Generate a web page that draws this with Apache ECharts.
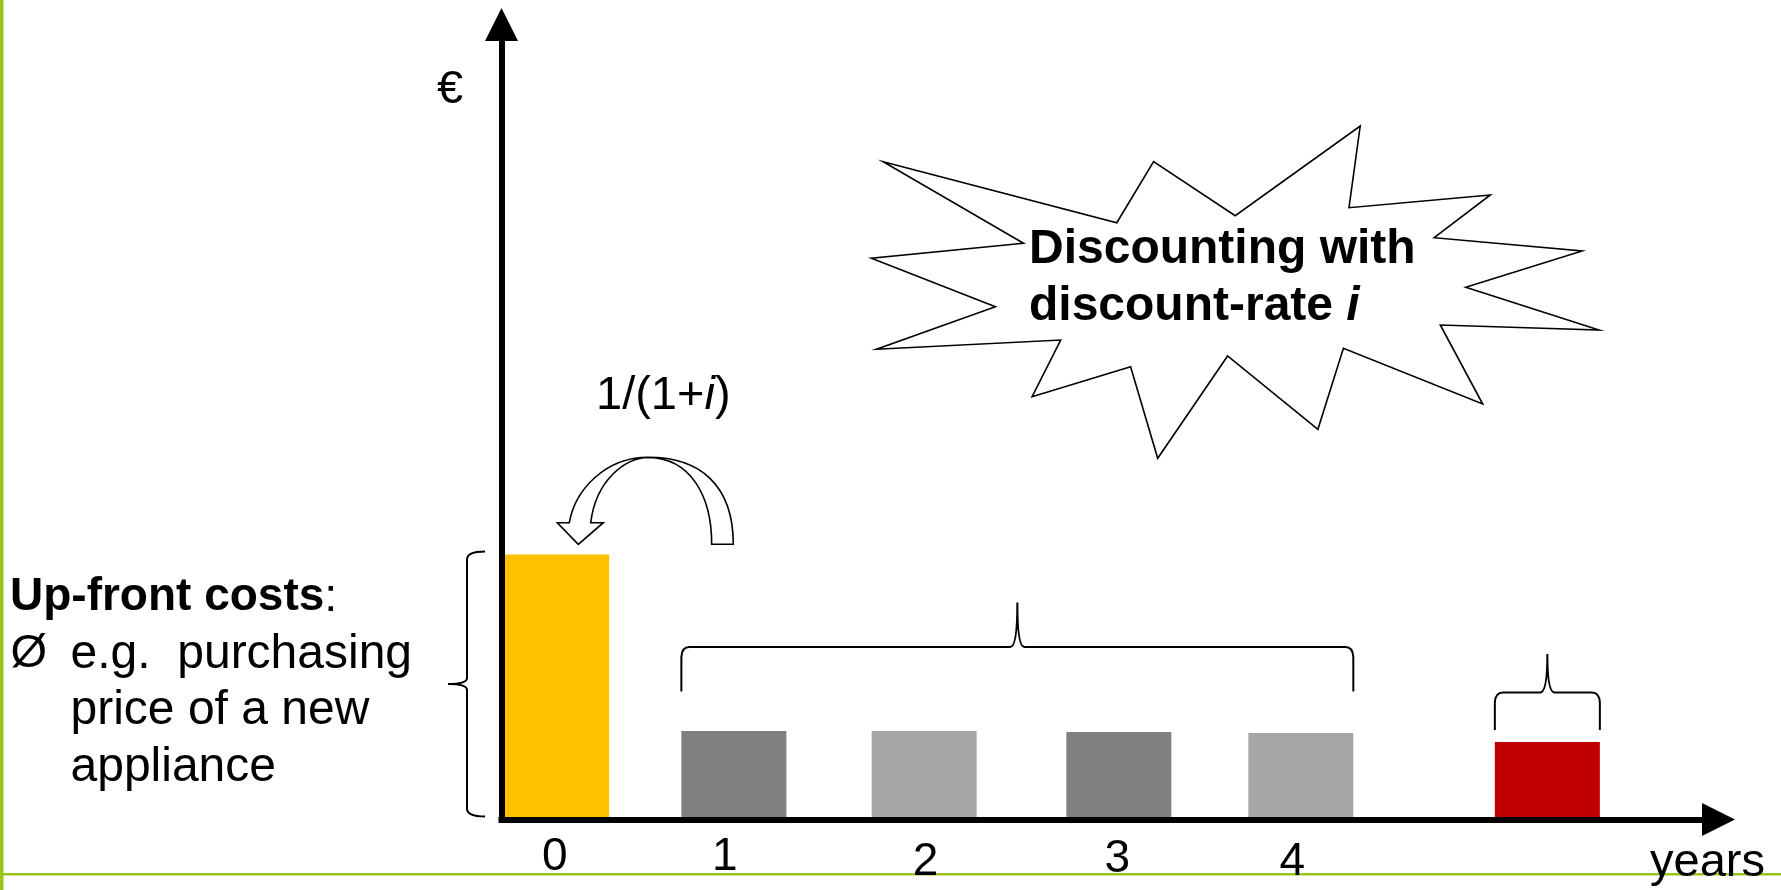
<!DOCTYPE html>
<html>
<head>
<meta charset="utf-8">
<script src="https://cdn.jsdelivr.net/npm/echarts@6/dist/echarts.min.js"></script>
<style>
  html, body { margin: 0; padding: 0; background: #ffffff; }
  #chart { width: 1781px; height: 890px; }
</style>
</head>
<body>
<div id="chart"></div>
<script>
// Cash flows on the timeline: position in years and amount in €
const barYears  = [0.01, 0.974, 2.009, 3.068, 4.058, 5.399];
const barValues = [100, 33.4, 33.4, 33.0, 32.6, 29.2];
// Year tick labels and where they sit on the timeline
const tickYears  = [0, 0.924, 2.016, 3.06, 4.011];
const tickLabels = ['0', '1', '2', '3', '4'];

// Styling (kept apart from the values)
const barColors = ['#FFC000', '#808080', '#A6A6A6', '#808080', '#A6A6A6', '#C00000'];
const labelDrop = [0, 0, 9, 4.5, 9];
const FONT = '"Liberation Sans", Arial, Helvetica, sans-serif';
const GREEN = '#9BC41A';
const BAR_W = 105;

// A free-form outline shape built from a list of drawing commands
const CmdPath = echarts.graphic.extendShape({
  shape: { cmds: [] },
  buildPath: function (ctx, shape) {
    (shape.cmds || []).forEach(function (c) {
      switch (c[0]) {
        case 'M': ctx.moveTo(c[1], c[2]); break;
        case 'L': ctx.lineTo(c[1], c[2]); break;
        case 'Q': ctx.quadraticCurveTo(c[1], c[2], c[3], c[4]); break;
        case 'C': ctx.bezierCurveTo(c[1], c[2], c[3], c[4], c[5], c[6]); break;
        case 'Z': ctx.closePath(); break;
      }
    });
  }
});
echarts.graphic.registerShape('cmdPath', CmdPath);

const chart = echarts.init(document.getElementById('chart'), null, { renderer: 'canvas' });

const rich = {};
tickLabels.forEach((t, i) => {
  rich['t' + i] = {
    fontFamily: FONT, fontSize: 46, color: '#000', lineHeight: 46,
    padding: [labelDrop[i], 0, 0, 0]
  };
});

const option = {
  backgroundColor: '#ffffff',
  animation: false,
  grid: { left: 501.5, right: 62.5, top: 24.5, bottom: 70.5, containLabel: false },
  xAxis: {
    type: 'value',
    min: -0.29,
    max: 6.33,
    z: 5,
    splitLine: { show: false },
    axisTick: { show: false },
    axisLine: {
      show: true,
      onZero: true,
      symbol: ['none', 'triangle'],
      symbolSize: [33, 33],
      lineStyle: { color: '#000', width: 6, cap: 'square' }
    },
    axisLabel: {
      show: true,
      customValues: tickYears,
      margin: 15,
      formatter: function (v) {
        let k = 0, best = Infinity;
        tickYears.forEach((t, i) => { const d = Math.abs(t - v); if (d < best) { best = d; k = i; } });
        return '{t' + k + '|' + tickLabels[k] + '}';
      },
      rich: rich
    }
  },
  yAxis: {
    type: 'value',
    min: 0,
    max: 300,
    z: 5,
    splitLine: { show: false },
    axisTick: { show: false },
    axisLabel: { show: false },
    axisLine: {
      show: true,
      onZero: false,
      symbol: ['none', 'triangle'],
      symbolSize: [33, 33],
      lineStyle: { color: '#000', width: 6, cap: 'square' }
    }
  },
  series: [{
    type: 'bar',
    barWidth: BAR_W,
    silent: true,
    data: barYears.map((x, i) => ({ value: [x, barValues[i]], itemStyle: { color: barColors[i] } }))
  }]
};

chart.setOption(option);

// ---- annotations: braces, curved arrow, starburst and texts ----
const toPx = (x, y) => chart.convertToPixel({ gridIndex: 0 }, [x, y]);
const barBox = (i) => {
  const top = toPx(barYears[i], barValues[i]);
  const base = toPx(barYears[i], 0);
  return { left: top[0] - BAR_W / 2, right: top[0] + BAR_W / 2, top: top[1], base: base[1] };
};

// horizontal curly brace opening downwards, tip pointing up
function hBrace(x1, x2, yEnd, yLine, yTip) {
  const xm = (x1 + x2) / 2;
  const r = 8;
  return [
    ['M', x1, yEnd],
    ['L', x1, yLine + r + 2],
    ['Q', x1 + 0.5, yLine, x1 + r, yLine],
    ['L', xm - 7, yLine],
    ['Q', xm, yLine, xm, yTip],
    ['Q', xm, yLine, xm + 7, yLine],
    ['L', x2 - r, yLine],
    ['Q', x2 - 0.5, yLine, x2, yLine + r + 2],
    ['L', x2, yEnd]
  ];
}

// vertical curly brace opening to the right, tip pointing left
function vBrace(xEnd, xLine, xTip, y1, y2) {
  const ym = (y1 + y2) / 2;
  return [
    ['M', xEnd, y1],
    ['Q', xLine, y1, xLine, y1 + 8],
    ['L', xLine, ym - 6],
    ['Q', xLine, ym, xTip, ym],
    ['Q', xLine, ym, xLine, ym + 6],
    ['L', xLine, y2 - 8],
    ['Q', xLine, y2, xEnd, y2]
  ];
}

const b0 = barBox(0), b1 = barBox(1), b4 = barBox(4), b5 = barBox(5);
const runTop = Math.min(barBox(1).top, barBox(2).top, barBox(3).top, barBox(4).top);
const braceLine = { stroke: '#000', lineWidth: 2, fill: null };

const starPoints = [
  [883.2, 161.7], [1116.8, 222.7], [1153.6, 161.7], [1235.2, 215.7], [1360.2, 126],
  [1349, 207.7], [1490.3, 195], [1434.2, 237.7], [1582.1, 251], [1465.8, 287.3],
  [1599, 330], [1440.3, 325], [1482.7, 404], [1343.4, 348.3], [1317.9, 429.3],
  [1227.6, 356], [1157.7, 458.3], [1130.6, 366.7], [1032.1, 396.7], [1060.7, 340],
  [876.5, 349.3], [995.4, 306.7], [871.4, 258.3], [1023.5, 243.3]
];

const arrowCmds = [
  ['M', 569.3, 522.7],
  ['C', 575, 490, 605, 457.3, 648.3, 457.3],
  ['C', 700, 457.3, 733.3, 485, 733.3, 544.3],
  ['L', 711.7, 544.3],
  ['C', 711.7, 495, 690, 458, 648.3, 457.5],
  ['C', 625, 458, 596, 480, 590.7, 522.7],
  ['L', 603.3, 522.7],
  ['L', 578.3, 544.3],
  ['L', 557.3, 522.7],
  ['Z']
];

function txt(x, y, text, size, opts) {
  opts = opts || {};
  const style = {
    text: text, fill: '#000',
    fontFamily: FONT, fontSize: size,
    fontWeight: opts.bold ? 'bold' : 'normal',
    align: opts.align || 'left', verticalAlign: 'middle'
  };
  if (opts.rich) style.rich = opts.rich;
  return { type: 'text', x: x, y: y, z: 20, style: style };
}

const richItalic = { i: { fontFamily: FONT, fontSize: 47, fontStyle: 'italic', fill: '#000' } };
const richBoldItalic = { i: { fontFamily: FONT, fontSize: 48, fontStyle: 'italic', fontWeight: 'bold', fill: '#000' } };
const richBold = { b: { fontFamily: FONT, fontSize: 46, fontWeight: 'bold', fill: '#000' } };

chart.setOption({
  graphic: [
    // slide frame lines
    { type: 'rect', z: 1, shape: { x: 0, y: 0, width: 3.5, height: 890 }, style: { fill: GREEN } },
    { type: 'rect', z: 1, shape: { x: 0, y: 873, width: 1781, height: 2.5 }, style: { fill: GREEN } },

    // starburst
    { type: 'polygon', z: 10, shape: { points: starPoints }, style: { fill: '#fff', stroke: '#000', lineWidth: 1.6 } },

    // curved discounting arrow
    { type: 'cmdPath', z: 10, shape: { cmds: arrowCmds }, style: { fill: '#fff', stroke: '#000', lineWidth: 1.6 } },

    // braces
    { type: 'cmdPath', z: 10, shape: { cmds: vBrace(485, 467, 448, b0.top - 3, b0.base - 3) }, style: braceLine },
    { type: 'cmdPath', z: 10, shape: { cmds: hBrace(b1.left, b4.right, runTop - 39.5, runTop - 84, runTop - 128.5) }, style: braceLine },
    { type: 'cmdPath', z: 10, shape: { cmds: hBrace(b5.left, b5.right, b5.top - 12, b5.top - 49.7, b5.top - 88) }, style: braceLine },

    // texts
    txt(450, 90.5, '€', 47, { align: 'center' }),
    txt(596, 396, '1/(1+{i|i})', 47, { rich: richItalic }),
    txt(1029, 249.5, 'Discounting with', 48, { bold: true }),
    txt(1029, 306.5, 'discount-rate {i|i}', 48, { bold: true, rich: richBoldItalic }),
    txt(10, 597.7, '{b|Up-front costs}:', 47, { rich: richBold }),
    txt(10.5, 654.4, 'Ø', 47),
    txt(70.5, 654.4, 'e.g.  purchasing', 48),
    txt(70.5, 711.1, 'price of a new', 48),
    txt(70.5, 768.1, 'appliance', 48),
    txt(1650, 863, 'years', 47)
  ]
});
</script>
</body>
</html>
